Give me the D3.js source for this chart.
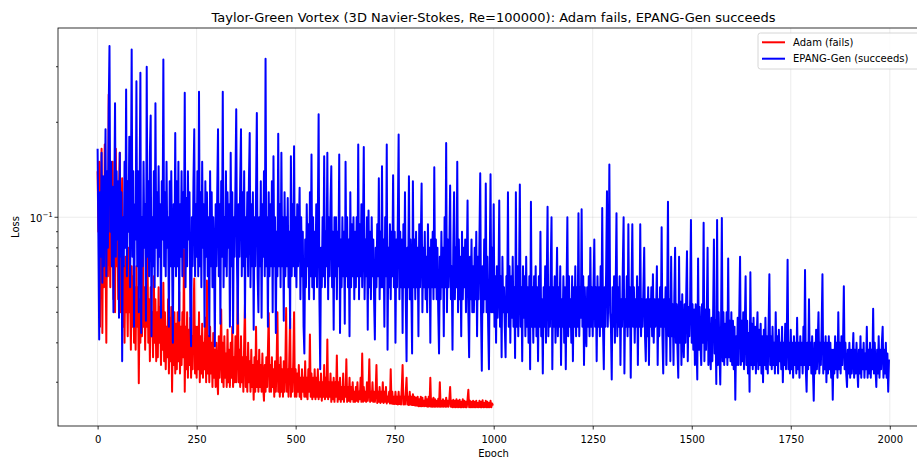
<!DOCTYPE html>
<html>
<head>
<meta charset="utf-8">
<title>Taylor-Green Vortex loss</title>
<script src="https://cdn.jsdelivr.net/npm/d3@7"></script>
<style>
    body { margin: 0; background: #fff; }
    text { font-family: "DejaVu Sans", sans-serif; fill: #000; }
    .grid line { stroke: #b0b0b0; stroke-opacity: 0.3; stroke-width: 0.8; }
    .axis path, .axis line { stroke: #000; stroke-width: 0.8; }
</style>
</head>
<body>
<svg width="917" height="457"></svg>
<script>
var epochStep = 2;

var adamLoss = [
    0.14, 0.09, 0.15, 0.045, 0.1, 0.165, 0.043, 0.12, 0.06, 0.17, 0.08, 0.04, 0.11, 0.065, 0.245, 0.09, 0.06, 0.13, 0.07, 0.15, 0.055, 0.12, 0.05, 0.165, 0.07,
    0.1, 0.055, 0.12, 0.16, 0.05, 0.09, 0.133, 0.045, 0.07, 0.04, 0.075, 0.05, 0.065, 0.042, 0.08, 0.05, 0.06, 0.038, 0.07, 0.045, 0.065, 0.04, 0.06, 0.038, 0.07,
    0.045, 0.06, 0.0298, 0.055, 0.04, 0.065, 0.042, 0.084, 0.045, 0.06, 0.038, 0.055, 0.045, 0.076, 0.04, 0.055, 0.035, 0.06, 0.042, 0.05, 0.036, 0.065, 0.04, 0.055, 0.035,
    0.05, 0.036, 0.06, 0.04, 0.052, 0.034, 0.048, 0.038, 0.062, 0.035, 0.05, 0.033, 0.045, 0.036, 0.055, 0.032, 0.048, 0.035, 0.052, 0.028, 0.045, 0.034, 0.05, 0.032, 0.046,
    0.033, 0.05, 0.035, 0.058, 0.032, 0.045, 0.034, 0.05, 0.036, 0.079, 0.028, 0.045, 0.033, 0.05, 0.031, 0.044, 0.034, 0.048, 0.031, 0.042, 0.033, 0.05, 0.064, 0.032, 0.045,
    0.031, 0.045, 0.033, 0.05, 0.03, 0.042, 0.032, 0.046, 0.031, 0.04, 0.033, 0.048, 0.03, 0.063, 0.032, 0.042, 0.03, 0.045, 0.032, 0.04, 0.029, 0.043, 0.031, 0.038, 0.029,
    0.04, 0.031, 0.0275, 0.042, 0.031, 0.038, 0.051, 0.03, 0.04, 0.029, 0.042, 0.031, 0.037, 0.029, 0.044, 0.03, 0.038, 0.029, 0.04, 0.031, 0.045, 0.029, 0.036, 0.03, 0.042,
    0.03, 0.04, 0.06, 0.03, 0.038, 0.029, 0.042, 0.03, 0.036, 0.028, 0.04, 0.053, 0.029, 0.036, 0.028, 0.04, 0.03, 0.035, 0.028, 0.038, 0.029, 0.034, 0.0264, 0.036, 0.028,
    0.045, 0.029, 0.035, 0.028, 0.038, 0.029, 0.034, 0.028, 0.037, 0.029, 0.0262, 0.034, 0.028, 0.036, 0.029, 0.038, 0.0497, 0.028, 0.034, 0.028, 0.036, 0.029, 0.033, 0.027, 0.035,
    0.028, 0.035, 0.05, 0.028, 0.034, 0.027, 0.036, 0.028, 0.033, 0.027, 0.035, 0.028, 0.034, 0.0516, 0.028, 0.033, 0.027, 0.036, 0.048, 0.027, 0.033, 0.028, 0.035, 0.05, 0.027,
    0.033, 0.027, 0.032, 0.028, 0.034, 0.027, 0.031, 0.0265, 0.033, 0.028, 0.031, 0.027, 0.035, 0.027, 0.031, 0.0265, 0.033, 0.028, 0.0425, 0.027, 0.032, 0.0265, 0.031, 0.027, 0.033,
    0.0265, 0.031, 0.027, 0.033, 0.0265, 0.03, 0.027, 0.032, 0.0262, 0.03, 0.027, 0.034, 0.0265, 0.031, 0.027, 0.041, 0.0265, 0.03, 0.027, 0.032, 0.026, 0.03, 0.0265, 0.031, 0.026,
    0.03, 0.027, 0.0365, 0.026, 0.03, 0.0265, 0.031, 0.026, 0.029, 0.0265, 0.032, 0.026, 0.029, 0.027, 0.0355, 0.026, 0.029, 0.0262, 0.031, 0.026, 0.029, 0.0265, 0.03, 0.026, 0.028,
    0.026, 0.029, 0.0262, 0.03, 0.026, 0.028, 0.0265, 0.031, 0.026, 0.037, 0.026, 0.029, 0.0262, 0.028, 0.026, 0.03, 0.0262, 0.028, 0.0355, 0.026, 0.028, 0.0262, 0.03, 0.026, 0.028,
    0.026, 0.028, 0.034, 0.0258, 0.028, 0.026, 0.029, 0.0258, 0.028, 0.026, 0.03, 0.0258, 0.028, 0.026, 0.029, 0.0257, 0.027, 0.026, 0.028, 0.0257, 0.033, 0.0257, 0.028, 0.0256, 0.027,
    0.0256, 0.028, 0.0256, 0.027, 0.0255, 0.028, 0.0256, 0.027, 0.0255, 0.029, 0.034, 0.0255, 0.027, 0.0255, 0.028, 0.031, 0.0255, 0.027, 0.0254, 0.028, 0.0255, 0.027, 0.0254, 0.0275, 0.0254,
    0.027, 0.0253, 0.0268, 0.0253, 0.027, 0.0252, 0.0265, 0.0252, 0.027, 0.0252, 0.0268, 0.0252, 0.0262, 0.0252, 0.027, 0.0252, 0.0265, 0.0251, 0.027, 0.0252, 0.031, 0.0251, 0.0265, 0.0251, 0.0268,
    0.0251, 0.0265, 0.0251, 0.0262, 0.0251, 0.0266, 0.0251, 0.03, 0.0251, 0.0262, 0.0251, 0.0265, 0.0251, 0.0262, 0.0251, 0.0268, 0.0251, 0.0262, 0.0251, 0.0265, 0.029, 0.0251, 0.0262, 0.025, 0.0264,
    0.025, 0.0262, 0.025, 0.0265, 0.025, 0.0262, 0.025, 0.0264, 0.025, 0.026, 0.025, 0.0265, 0.025, 0.0262, 0.025, 0.026, 0.025, 0.0265, 0.0284, 0.025, 0.0262, 0.025, 0.026, 0.025, 0.0262,
    0.025, 0.026, 0.025, 0.0262, 0.025, 0.0258, 0.025, 0.0262, 0.025, 0.026, 0.025, 0.0263, 0.025, 0.0258, 0.025, 0.0262, 0.025, 0.026, 0.025, 0.0258, 0.025, 0.0262, 0.025, 0.0257, 0.0253
];

var epangLoss = [
    0.165, 0.087, 0.041, 0.12, 0.075, 0.16, 0.062, 0.135, 0.07, 0.11, 0.19, 0.065, 0.14, 0.08, 0.22, 0.349, 0.09, 0.15, 0.07, 0.125, 0.05, 0.11, 0.23, 0.075, 0.14,
    0.085, 0.13, 0.048, 0.16, 0.075, 0.12, 0.035, 0.1, 0.07, 0.15, 0.08, 0.254, 0.065, 0.13, 0.09, 0.18, 0.06, 0.12, 0.34, 0.075, 0.14, 0.045, 0.11, 0.085, 0.27,
    0.07, 0.14, 0.05, 0.12, 0.287, 0.043, 0.1, 0.07, 0.15, 0.08, 0.11, 0.047, 0.30, 0.075, 0.13, 0.065, 0.16, 0.21, 0.042, 0.1, 0.07, 0.14, 0.06, 0.23, 0.08,
    0.12, 0.065, 0.145, 0.075, 0.11, 0.048, 0.13, 0.085, 0.316, 0.07, 0.12, 0.065, 0.15, 0.08, 0.1, 0.045, 0.13, 0.07, 0.14, 0.075, 0.04, 0.11, 0.07, 0.185, 0.065,
    0.13, 0.07, 0.15, 0.047, 0.11, 0.075, 0.14, 0.065, 0.12, 0.08, 0.248, 0.06, 0.115, 0.07, 0.14, 0.085, 0.12, 0.05, 0.039, 0.1, 0.07, 0.13, 0.19, 0.065, 0.11,
    0.075, 0.14, 0.065, 0.25, 0.07, 0.12, 0.06, 0.15, 0.08, 0.11, 0.045, 0.13, 0.075, 0.12, 0.065, 0.1, 0.042, 0.14, 0.07, 0.12, 0.06, 0.1, 0.075, 0.039, 0.11,
    0.07, 0.12, 0.19, 0.065, 0.11, 0.046, 0.13, 0.075, 0.25, 0.06, 0.1, 0.07, 0.14, 0.065, 0.12, 0.08, 0.11, 0.045, 0.16, 0.07, 0.12, 0.043, 0.1, 0.075, 0.13,
    0.22, 0.07, 0.046, 0.11, 0.075, 0.13, 0.19, 0.065, 0.12, 0.07, 0.14, 0.048, 0.1, 0.075, 0.12, 0.065, 0.13, 0.185, 0.06, 0.11, 0.07, 0.12, 0.044, 0.1, 0.07,
    0.12, 0.214, 0.065, 0.05, 0.1, 0.07, 0.13, 0.048, 0.11, 0.075, 0.14, 0.065, 0.318, 0.07, 0.1, 0.045, 0.12, 0.065, 0.11, 0.07, 0.13, 0.05, 0.156, 0.07, 0.1,
    0.043, 0.09, 0.065, 0.184, 0.07, 0.11, 0.06, 0.16, 0.07, 0.1, 0.047, 0.12, 0.065, 0.1, 0.07, 0.115, 0.06, 0.09, 0.0445, 0.156, 0.065, 0.11, 0.07, 0.168, 0.065,
    0.1, 0.06, 0.11, 0.07, 0.09, 0.124, 0.055, 0.1, 0.065, 0.09, 0.045, 0.037, 0.085, 0.06, 0.11, 0.07, 0.095, 0.055, 0.12, 0.065, 0.158, 0.06, 0.1, 0.055, 0.09,
    0.065, 0.11, 0.06, 0.1, 0.212, 0.055, 0.033, 0.08, 0.06, 0.1, 0.065, 0.156, 0.06, 0.09, 0.07, 0.16, 0.055, 0.1, 0.065, 0.11, 0.145, 0.06, 0.09, 0.044, 0.1,
    0.065, 0.1, 0.055, 0.09, 0.07, 0.158, 0.043, 0.085, 0.06, 0.1, 0.065, 0.09, 0.046, 0.15, 0.065, 0.1, 0.06, 0.085, 0.042, 0.12, 0.06, 0.095, 0.065, 0.1, 0.055,
    0.09, 0.06, 0.1, 0.065, 0.17, 0.055, 0.095, 0.065, 0.11, 0.06, 0.09, 0.167, 0.055, 0.085, 0.065, 0.1, 0.044, 0.105, 0.06, 0.09, 0.055, 0.1, 0.065, 0.085, 0.055,
    0.041, 0.08, 0.06, 0.095, 0.065, 0.133, 0.055, 0.09, 0.06, 0.145, 0.06, 0.085, 0.045, 0.1, 0.065, 0.17, 0.038, 0.08, 0.06, 0.095, 0.055, 0.09, 0.065, 0.136, 0.06,
    0.09, 0.04, 0.085, 0.06, 0.1, 0.183, 0.055, 0.09, 0.06, 0.085, 0.043, 0.095, 0.06, 0.12, 0.055, 0.035, 0.08, 0.06, 0.135, 0.055, 0.085, 0.06, 0.037, 0.13, 0.06,
    0.085, 0.055, 0.09, 0.06, 0.08, 0.042, 0.095, 0.06, 0.085, 0.128, 0.05, 0.08, 0.06, 0.09, 0.055, 0.075, 0.05, 0.095, 0.06, 0.08, 0.04, 0.085, 0.06, 0.09, 0.055,
    0.144, 0.06, 0.085, 0.055, 0.08, 0.05, 0.037, 0.075, 0.055, 0.09, 0.06, 0.08, 0.042, 0.1, 0.06, 0.172, 0.05, 0.085, 0.06, 0.08, 0.126, 0.055, 0.07, 0.038, 0.08,
    0.12, 0.055, 0.08, 0.06, 0.15, 0.05, 0.085, 0.055, 0.075, 0.042, 0.09, 0.055, 0.08, 0.06, 0.085, 0.05, 0.07, 0.113, 0.05, 0.036, 0.075, 0.055, 0.085, 0.05, 0.07,
    0.05, 0.08, 0.055, 0.09, 0.042, 0.075, 0.055, 0.085, 0.138, 0.05, 0.0326, 0.07, 0.05, 0.085, 0.055, 0.128, 0.05, 0.075, 0.045, 0.033, 0.07, 0.137, 0.05, 0.08, 0.05,
    0.11, 0.045, 0.065, 0.04, 0.07, 0.048, 0.06, 0.113, 0.045, 0.065, 0.036, 0.075, 0.05, 0.06, 0.045, 0.036, 0.065, 0.05, 0.12, 0.045, 0.07, 0.04, 0.065, 0.048, 0.075,
    0.045, 0.06, 0.0358, 0.12, 0.045, 0.07, 0.042, 0.065, 0.127, 0.045, 0.06, 0.035, 0.07, 0.048, 0.065, 0.042, 0.075, 0.045, 0.06, 0.04, 0.065, 0.033, 0.112, 0.045, 0.06,
    0.04, 0.065, 0.045, 0.07, 0.042, 0.06, 0.035, 0.065, 0.045, 0.09, 0.042, 0.055, 0.032, 0.06, 0.045, 0.07, 0.04, 0.065, 0.108, 0.042, 0.06, 0.045, 0.07, 0.1, 0.033,
    0.06, 0.045, 0.065, 0.04, 0.055, 0.08, 0.042, 0.06, 0.045, 0.07, 0.034, 0.055, 0.045, 0.065, 0.04, 0.06, 0.033, 0.06, 0.1, 0.042, 0.065, 0.045, 0.055, 0.04, 0.065,
    0.035, 0.06, 0.045, 0.07, 0.042, 0.06, 0.045, 0.103, 0.042, 0.06, 0.048, 0.106, 0.045, 0.065, 0.034, 0.06, 0.045, 0.039, 0.06, 0.045, 0.065, 0.042, 0.08, 0.045, 0.06,
    0.042, 0.06, 0.085, 0.045, 0.06, 0.035, 0.065, 0.045, 0.06, 0.042, 0.07, 0.045, 0.107, 0.045, 0.033, 0.06, 0.045, 0.07, 0.121, 0.045, 0.065, 0.147, 0.05, 0.045, 0.0306,
    0.06, 0.045, 0.065, 0.04, 0.06, 0.103, 0.042, 0.06, 0.045, 0.065, 0.034, 0.055, 0.045, 0.07, 0.1, 0.032, 0.055, 0.045, 0.065, 0.042, 0.095, 0.045, 0.06, 0.031, 0.06,
    0.095, 0.045, 0.06, 0.04, 0.055, 0.045, 0.065, 0.034, 0.06, 0.045, 0.095, 0.042, 0.055, 0.045, 0.06, 0.08, 0.042, 0.035, 0.055, 0.042, 0.06, 0.034, 0.055, 0.045, 0.06,
    0.042, 0.066, 0.04, 0.055, 0.045, 0.05, 0.07, 0.034, 0.055, 0.042, 0.06, 0.045, 0.093, 0.042, 0.032, 0.055, 0.045, 0.06, 0.034, 0.055, 0.112, 0.042, 0.055, 0.035, 0.075,
    0.042, 0.053, 0.034, 0.056, 0.08, 0.04, 0.053, 0.038, 0.031, 0.075, 0.04, 0.054, 0.034, 0.057, 0.042, 0.036, 0.053, 0.04, 0.056, 0.078, 0.035, 0.052, 0.042, 0.055, 0.098,
    0.04, 0.053, 0.038, 0.051, 0.034, 0.053, 0.04, 0.0306, 0.074, 0.038, 0.052, 0.04, 0.034, 0.053, 0.04, 0.096, 0.035, 0.051, 0.038, 0.05, 0.08, 0.034, 0.051, 0.038, 0.033,
    0.048, 0.035, 0.05, 0.085, 0.037, 0.047, 0.0296, 0.098, 0.034, 0.05, 0.038, 0.0295, 0.046, 0.0995, 0.035, 0.05, 0.034, 0.046, 0.036, 0.05, 0.034, 0.074, 0.036, 0.047, 0.035,
    0.05, 0.034, 0.047, 0.033, 0.045, 0.0264, 0.042, 0.034, 0.048, 0.034, 0.05, 0.075, 0.034, 0.047, 0.035, 0.05, 0.033, 0.046, 0.065, 0.034, 0.047, 0.032, 0.043, 0.028, 0.067,
    0.034, 0.046, 0.033, 0.048, 0.034, 0.045, 0.032, 0.042, 0.05, 0.033, 0.044, 0.034, 0.046, 0.032, 0.042, 0.03, 0.044, 0.034, 0.048, 0.033, 0.042, 0.032, 0.045, 0.066, 0.034,
    0.042, 0.033, 0.045, 0.034, 0.04, 0.032, 0.05, 0.034, 0.042, 0.032, 0.044, 0.035, 0.04, 0.033, 0.045, 0.03, 0.04, 0.034, 0.046, 0.033, 0.042, 0.0734, 0.033, 0.04, 0.032,
    0.044, 0.033, 0.04, 0.031, 0.042, 0.034, 0.04, 0.032, 0.048, 0.033, 0.04, 0.031, 0.042, 0.034, 0.04, 0.032, 0.045, 0.034, 0.068, 0.033, 0.028, 0.04, 0.033, 0.055, 0.034,
    0.04, 0.032, 0.042, 0.033, 0.0262, 0.04, 0.032, 0.044, 0.033, 0.04, 0.05, 0.032, 0.04, 0.034, 0.045, 0.066, 0.032, 0.04, 0.033, 0.042, 0.03, 0.04, 0.032, 0.042, 0.033,
    0.04, 0.031, 0.038, 0.0264, 0.038, 0.032, 0.042, 0.033, 0.04, 0.031, 0.05, 0.033, 0.04, 0.032, 0.042, 0.034, 0.04, 0.0604, 0.033, 0.04, 0.032, 0.029, 0.038, 0.032, 0.04,
    0.031, 0.038, 0.032, 0.036, 0.043, 0.031, 0.038, 0.032, 0.04, 0.033, 0.029, 0.038, 0.032, 0.042, 0.031, 0.038, 0.033, 0.04, 0.031, 0.037, 0.033, 0.045, 0.031, 0.038, 0.032,
    0.04, 0.031, 0.038, 0.033, 0.0513, 0.032, 0.04, 0.033, 0.029, 0.038, 0.032, 0.042, 0.031, 0.038, 0.033, 0.04, 0.045, 0.031, 0.038, 0.032, 0.04, 0.031, 0.037, 0.028, 0.0354
];

var xTicks = [0, 250, 500, 750, 1000, 1250, 1500, 1750, 2000];
var yMinorTicks = [0.03, 0.04, 0.05, 0.06, 0.07, 0.08, 0.09, 0.2, 0.3];
var seriesNames = ["Adam (fails)", "EPANG-Gen (succeeds)"];
var seriesColours = ["#ff0000", "#0000ff"];

var svg = d3.select("svg"),
    margin = {top: 28, left: 58, bottom: 426, right: 929};

var x = d3.scaleLinear().domain([-100, 2099]).range([margin.left, margin.right]);
var y = d3.scaleLog().domain([0.0218, 0.398]).range([margin.bottom, margin.top]);

// clip so the lines stay inside the axes box
svg.append("clipPath").attr("id", "plotclip")
    .append("rect")
    .attr("x", margin.left).attr("y", margin.top)
    .attr("width", margin.right - margin.left)
    .attr("height", margin.bottom - margin.top);

// grid lines at major ticks
var grid = svg.append("g").attr("class", "grid");
grid.selectAll(".gx").data(xTicks).enter().append("line")
    .attr("x1", function(d){ return x(d); }).attr("x2", function(d){ return x(d); })
    .attr("y1", margin.top).attr("y2", margin.bottom);
grid.append("line")
    .attr("x1", margin.left).attr("x2", margin.right)
    .attr("y1", y(0.1)).attr("y2", y(0.1));

// loss curves, Adam drawn first so EPANG sits on top
var line = d3.line()
    .x(function(d, i){ return x(i * epochStep); })
    .y(function(d){ return y(d); });

var plot = svg.append("g").attr("clip-path", "url(#plotclip)");
[adamLoss, epangLoss].forEach(function(series, k){
    plot.append("path")
        .datum(series)
        .attr("fill", "none")
        .attr("stroke", seriesColours[k])
        .attr("stroke-width", 2)
        .attr("stroke-linejoin", "round")
        .attr("d", line);
});

// x axis
var xAxis = svg.append("g").attr("class", "axis")
    .attr("transform", "translate(0," + margin.bottom + ")")
    .call(d3.axisBottom(x).tickValues(xTicks).tickSize(3.5).tickPadding(6).tickFormat(d3.format("d")));
xAxis.select(".domain").remove();
xAxis.selectAll("text").attr("font-size", 10);

// y axis: one major tick with label, minor ticks
var yAxis = svg.append("g").attr("class", "axis")
    .attr("transform", "translate(" + margin.left + ",0)");
yAxis.append("line")
    .attr("x1", -3.5).attr("x2", 0)
    .attr("y1", y(0.1)).attr("y2", y(0.1));
yAxis.selectAll(".minor").data(yMinorTicks).enter().append("line")
    .attr("x1", -2).attr("x2", 0)
    .attr("y1", function(d){ return y(d); }).attr("y2", function(d){ return y(d); })
    .attr("stroke-width", 0.6);
var yLab = yAxis.append("text")
    .attr("x", -5.3).attr("y", y(0.1) + 4.4)
    .attr("text-anchor", "end")
    .attr("font-size", 10);
yLab.append("tspan").text("10");
yLab.append("tspan").attr("dy", -4.5).attr("font-size", 7).text("\u22121");

// axes frame
svg.append("rect")
    .attr("x", margin.left).attr("y", margin.top)
    .attr("width", margin.right - margin.left)
    .attr("height", margin.bottom - margin.top)
    .attr("fill", "none").attr("stroke", "#000").attr("stroke-width", 0.8);

// title and axis labels
svg.append("text")
    .attr("x", (margin.left + margin.right) / 2).attr("y", 22)
    .attr("text-anchor", "middle").attr("font-size", 13)
    .text("Taylor-Green Vortex (3D Navier-Stokes, Re=100000): Adam fails, EPANG-Gen succeeds");
svg.append("text")
    .attr("x", (margin.left + margin.right) / 2).attr("y", 456.5)
    .attr("text-anchor", "middle").attr("font-size", 10)
    .text("Epoch");
svg.append("text")
    .attr("transform", "translate(18.5," + (margin.top + margin.bottom) / 2 + ") rotate(-90)")
    .attr("text-anchor", "middle").attr("font-size", 10)
    .text("Loss");

// legend
var legend = svg.append("g").attr("transform", "translate(758,33)");
legend.append("rect")
    .attr("width", 180).attr("height", 36).attr("rx", 2.5)
    .attr("fill", "#fff").attr("fill-opacity", 0.8)
    .attr("stroke", "#cccccc").attr("stroke-width", 0.8);
seriesNames.forEach(function(name, i){
    var row = legend.append("g").attr("transform", "translate(0," + (9.3 + i * 16.4) + ")");
    row.append("line")
        .attr("x1", 4).attr("x2", 27)
        .attr("stroke", seriesColours[i]).attr("stroke-width", 2);
    row.append("text")
        .attr("x", 35).attr("y", 3.6)
        .attr("font-size", 10)
        .text(name);
});
</script>
</body>
</html>
